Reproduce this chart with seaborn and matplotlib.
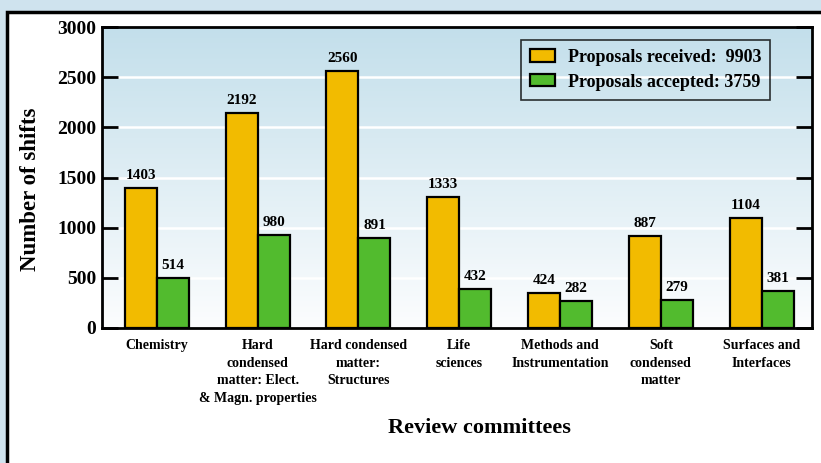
import numpy as np
import pandas as pd
import matplotlib
matplotlib.use("Agg")
import matplotlib.pyplot as plt
import seaborn as sns
from matplotlib.patches import Rectangle

categories = ["Chemistry", "Hard\ncondensed\nmatter: Elect.\n& Magn. properties",
              "Hard condensed\nmatter:\nStructures", "Life\nsciences",
              "Methods and\nInstrumentation", "Soft\ncondensed\nmatter",
              "Surfaces and\nInterfaces"]
received_heights = [1396, 2143, 2562, 1306, 349, 917, 1097]
accepted_heights = [498, 927, 897, 389, 269, 279, 369]
received_labels = ["1403", "2192", "2560", "1333", "424", "887", "1104"]
accepted_labels = ["514", "980", "891", "432", "282", "279", "381"]
series = ["Proposals received:  9903", "Proposals accepted: 3759"]
yticks = [0, 500, 1000, 1500, 2000, 2500, 3000]

sns.set_theme(style="white")
plt.rcParams['font.family'] = ['Liberation Serif', 'DejaVu Serif']
plt.rcParams['font.weight'] = 'bold'
plt.rcParams['text.color'] = 'black'
plt.rcParams['axes.labelcolor'] = 'black'
plt.rcParams['xtick.color'] = 'black'
plt.rcParams['ytick.color'] = 'black'

df = pd.DataFrame({
    "cat": categories * 2,
    "val": received_heights + accepted_heights,
    "series": [series[0]] * 7 + [series[1]] * 7,
})

fig = plt.figure(figsize=(8.21, 4.63), dpi=100)
fig.patch.set_facecolor("#cfe3ee")
W, H = 821, 463
frame = Rectangle((7 / W, -0.01), 1, 1 - 12 / H + 0.01, transform=fig.transFigure,
                  facecolor="white", edgecolor="black", linewidth=2.5, zorder=-10)
fig.add_artist(frame)

ax = fig.add_axes([102 / W, 1 - 328 / H, (812 - 102) / W, (328 - 27) / H])
ax.set_zorder(5)

sns.barplot(data=df, x="cat", y="val", hue="series", ax=ax,
            palette=["#f2bb00", "#52bb2e"], edgecolor="black", linewidth=1.6,
            width=0.635, gap=0, saturation=1, zorder=3)

x0, x1 = -0.545, 6.5
# gradient background (light blue top -> white bottom)
grad = np.linspace(0, 1, 256).reshape(-1, 1)
top = np.array([195, 223, 235]) / 255
bot = np.array([252, 253, 254]) / 255
img = top[None, None, :] * (1 - grad[:, :, None]) + bot[None, None, :] * grad[:, :, None]
ax.imshow(img, extent=[x0, x1, 0, 3000], origin="upper", aspect="auto", zorder=0)

ax.set_axisbelow(False)
ax.set_xlim(x0, x1)
ax.set_ylim(0, 3000)
ax.set_yticks(yticks)
ax.set_yticklabels([str(t) for t in yticks], fontsize=14, fontweight="bold", color="black")
for t in yticks[1:-1]:
    ax.axhline(t, color="white", lw=1.8, zorder=1)

ax.tick_params(axis="y", direction="in", length=11.5, width=2, color="black",
               right=True, left=True, pad=4, labelcolor="black")
ax.tick_params(axis="x", length=0, pad=8, labelcolor="black")
ax.set_xticks(range(7))
ax.set_xticklabels(categories, fontsize=10, fontweight="bold", linespacing=1.45, color="black")
for s in ax.spines.values():
    s.set_color("black")
    s.set_linewidth(2)

ax.set_xlabel("Review committees", fontsize=16, fontweight="bold", color="black")
ax.xaxis.set_label_coords(0.532, -0.298)
ax.set_ylabel("Number of shifts", fontsize=16.5, fontweight="bold", color="black")
ax.yaxis.set_label_coords(-0.086, 0.46)

containers = ax.containers
ax.bar_label(containers[0], labels=received_labels, padding=4, fontsize=11,
             fontweight="bold", color="black")
ax.bar_label(containers[1], labels=accepted_labels, padding=4, fontsize=11,
             fontweight="bold", color="black")

leg = ax.legend(loc="upper right", bbox_to_anchor=(0.941, 0.957), borderaxespad=0,
                fontsize=13, frameon=True, fancybox=False, handlelength=1.4,
                handleheight=0.67, borderpad=0.5, labelspacing=0.42, handletextpad=0.67)
leg.get_frame().set_edgecolor("black")
leg.get_frame().set_linewidth(1.2)
leg.get_frame().set_facecolor("none")
for t in leg.get_texts():
    t.set_fontweight("bold")
    t.set_color("black")
for p in leg.get_patches():
    p.set_linewidth(1.6)

fig.savefig("out.png", dpi=100)
